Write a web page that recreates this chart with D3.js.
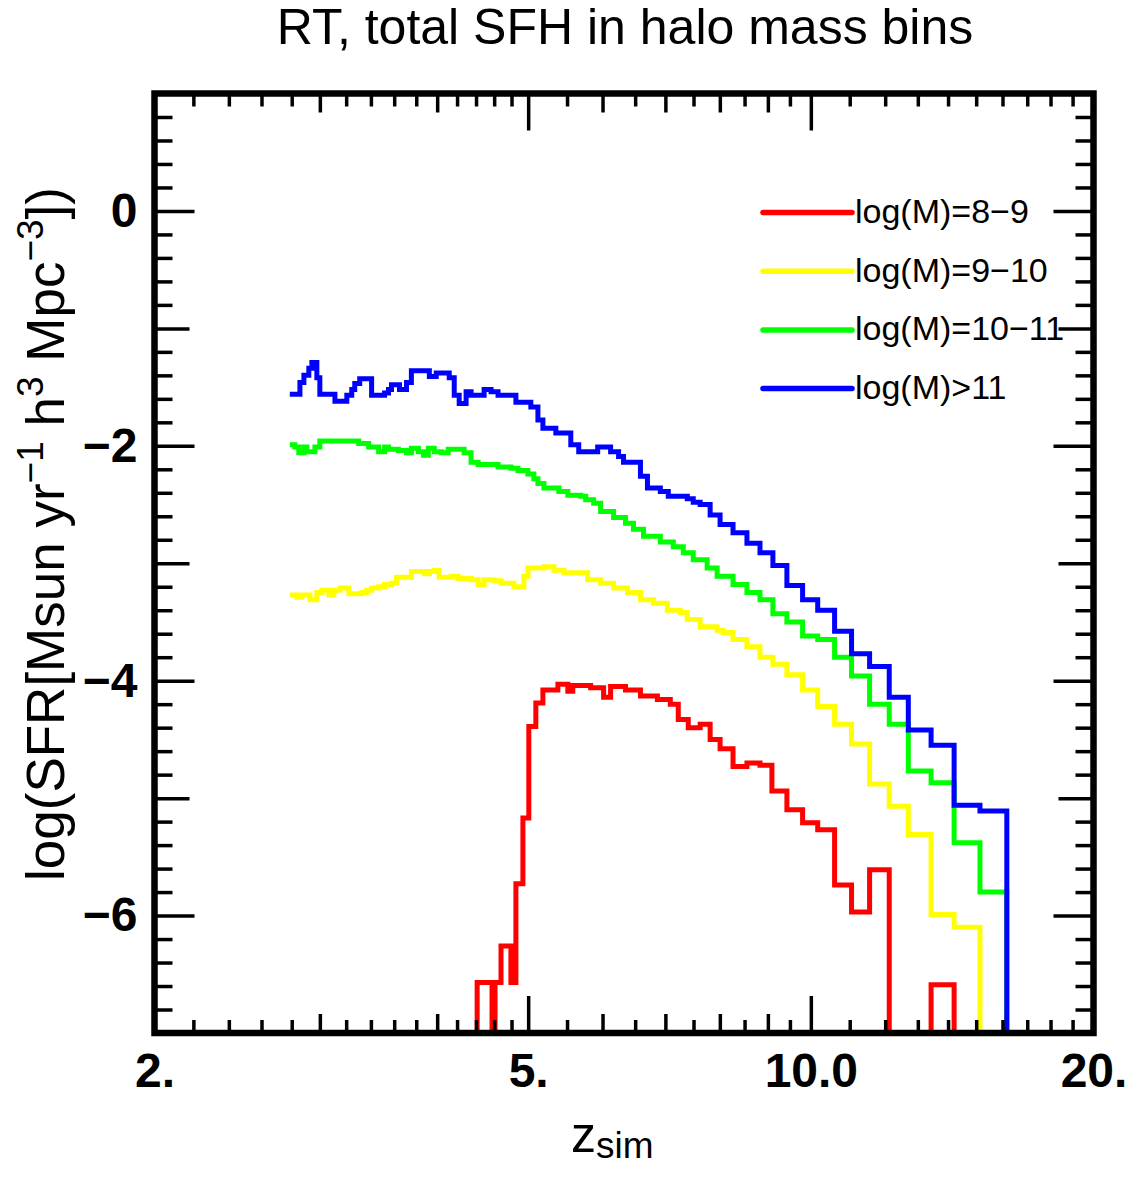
<!DOCTYPE html>
<html><head><meta charset="utf-8">
<script src="https://cdn.jsdelivr.net/npm/d3@7"></script>
<style>
body{margin:0;background:#fff}
svg{display:block}
text{font-family:"Liberation Sans",Arial,Helvetica,sans-serif;fill:#000}
</style>
</head><body>
<script>
// ---------- data: step histograms, [z at bin start, log SFR] ----------
const redSteps = [[2.787,null],[4.412,-6.57],[4.576,null],[4.610,-6.57],[4.678,-6.26],[4.793,-6.57],[4.852,-5.73],[4.936,-5.17],[5.008,-4.39],[5.095,-4.19],[5.184,-4.08],[5.378,-4.03],[5.511,-4.09],[5.578,-4.04],[5.828,-4.06],[6.016,-4.14],[6.120,-4.05],[6.348,-4.08],[6.585,-4.13],[6.864,-4.16],[7.085,-4.20],[7.225,-4.33],[7.404,-4.40],[7.623,-4.37],[7.812,-4.50],[8.005,-4.58],[8.263,-4.73],[8.550,-4.70],[8.828,-4.72],[9.09,-4.94],[9.43,-5.10],[9.80,-5.21],[10.17,-5.27],[10.60,-5.74],[11.05,-5.97],[11.55,-5.61],[12.12,null],[13.43,-6.59]];
const redEnd = 14.21;

const yellowSteps = [[2.787,-3.27],[2.835,-3.29],[2.871,-3.27],[2.928,-3.31],[2.978,-3.25],[3.015,-3.23],[3.068,-3.27],[3.105,-3.23],[3.151,-3.21],[3.221,-3.26],[3.324,-3.25],[3.365,-3.23],[3.406,-3.21],[3.465,-3.20],[3.516,-3.18],[3.576,-3.17],[3.620,-3.12],[3.755,-3.07],[3.876,-3.09],[3.924,-3.07],[3.972,-3.06],[4.020,-3.12],[4.140,-3.11],[4.212,-3.13],[4.347,-3.14],[4.423,-3.18],[4.488,-3.14],[4.599,-3.15],[4.678,-3.17],[4.828,-3.20],[4.948,-3.11],[4.998,-3.04],[5.197,-3.03],[5.325,-3.06],[5.457,-3.08],[5.785,-3.14],[5.972,-3.17],[6.165,-3.21],[6.380,-3.25],[6.585,-3.31],[6.798,-3.34],[7.033,-3.40],[7.260,-3.42],[7.385,-3.48],[7.623,-3.54],[7.947,-3.57],[8.063,-3.59],[8.263,-3.65],[8.550,-3.71],[8.828,-3.80],[9.112,-3.86],[9.43,-3.95],[9.80,-4.08],[10.17,-4.22],[10.60,-4.37],[11.05,-4.54],[11.55,-4.88],[12.12,-5.07],[12.70,-5.31],[13.43,-5.99],[14.21,-6.10]];
const yellowEnd = 15.14;

const greenSteps = [[2.787,-1.99],[2.821,-2.01],[2.849,-2.06],[2.885,-2.01],[2.906,-2.05],[2.964,-2.01],[3.000,-1.96],[3.300,-1.98],[3.381,-2.01],[3.465,-2.05],[3.516,-2.01],[3.550,-2.03],[3.638,-2.04],[3.710,-2.06],[3.755,-2.02],[3.820,-2.05],[3.867,-2.08],[3.914,-2.02],[3.972,-2.05],[4.040,-2.06],[4.110,-2.03],[4.273,-2.06],[4.347,-2.14],[4.423,-2.16],[4.644,-2.18],[4.793,-2.19],[4.876,-2.21],[4.996,-2.24],[5.070,-2.28],[5.121,-2.32],[5.197,-2.36],[5.391,-2.39],[5.511,-2.42],[5.688,-2.43],[5.758,-2.46],[5.871,-2.49],[5.972,-2.56],[6.165,-2.61],[6.348,-2.66],[6.473,-2.71],[6.634,-2.77],[6.914,-2.82],[7.137,-2.86],[7.314,-2.91],[7.495,-2.97],[7.755,-3.04],[7.947,-3.11],[8.263,-3.18],[8.550,-3.25],[8.828,-3.31],[9.112,-3.43],[9.43,-3.50],[9.80,-3.62],[10.17,-3.65],[10.60,-3.80],[11.05,-3.96],[11.55,-4.20],[12.12,-4.37],[12.70,-4.77],[13.43,-4.87],[14.21,-5.38],[15.14,-5.80]];
const greenEnd = 16.17;

const blueSteps = [[2.787,-1.56],[2.857,-1.46],[2.885,-1.40],[2.920,-1.34],[2.942,-1.29],[2.978,-1.42],[3.000,-1.56],[3.113,-1.62],[3.205,-1.57],[3.244,-1.52],[3.268,-1.47],[3.308,-1.43],[3.406,-1.57],[3.516,-1.55],[3.550,-1.52],[3.576,-1.48],[3.647,-1.52],[3.710,-1.46],[3.755,-1.36],[3.924,-1.41],[3.991,-1.38],[4.120,-1.42],[4.171,-1.57],[4.222,-1.64],[4.294,-1.54],[4.347,-1.57],[4.488,-1.52],[4.565,-1.54],[4.644,-1.57],[4.852,-1.63],[5.033,-1.67],[5.121,-1.78],[5.184,-1.85],[5.351,-1.89],[5.551,-1.99],[5.660,-2.05],[5.929,-2.01],[6.120,-2.05],[6.241,-2.09],[6.317,-2.14],[6.585,-2.26],[6.699,-2.36],[6.914,-2.39],[7.050,-2.43],[7.386,-2.45],[7.495,-2.48],[7.623,-2.50],[7.812,-2.59],[8.005,-2.67],[8.263,-2.74],[8.550,-2.83],[8.828,-2.91],[9.112,-3.02],[9.43,-3.19],[9.80,-3.31],[10.17,-3.40],[10.60,-3.58],[11.05,-3.77],[11.55,-3.88],[12.12,-4.14],[12.70,-4.42],[13.43,-4.55],[14.21,-5.06],[15.14,-5.11]];
const blueEnd = 16.17;

const seriesLabels = ["log(M)=8\u22129","log(M)=9\u221210","log(M)=10\u221211","log(M)>11"];
const seriesColors = ["#ff0000","#ffff00","#00ff00","#0000ff"];

// ---------- ticks ----------
const xMajorTicks = [2,5,10,20];
const xMajorLabels = ["2.","5.","10.0","20."];
const xMediumTicks = [3,4,6,7,8,9];
const xMinorTicks = [2.2,2.4,2.6,2.8,3.2,3.4,3.6,3.8,4.2,4.4,4.6,4.8,5.5,6.5,7.5,8.5,9.5,11,12,13,14,15,16,17,18,19];
const yMajorTicks = [0,-2,-4,-6];
const yMajorLabels = ["0","\u22122","\u22124","\u22126"];
const yMediumTicks = [1,-1,-3,-5,-7];
const yMinorTicks = [0.8,0.6,0.4,0.2,-0.2,-0.4,-0.6,-0.8,-1.2,-1.4,-1.6,-1.8,-2.2,-2.4,-2.6,-2.8,-3.2,-3.4,-3.6,-3.8,-4.2,-4.4,-4.6,-4.8,-5.2,-5.4,-5.6,-5.8,-6.2,-6.4,-6.6,-6.8];

// ---------- layout ----------
const W = 1139, H = 1203;
const L = 154.5, R = 1093.5, T = 93.5, B = 1033;

const svg = d3.select("body").append("svg").attr("width", W).attr("height", H);
const x = d3.scaleLog().domain([2,20]).range([L,R]);
const y = d3.scaleLinear().domain([-7,1]).range([B,T]);

svg.append("defs").append("clipPath").attr("id","plotclip")
  .append("rect").attr("x",L).attr("y",T).attr("width",R-L).attr("height",B-T);

// lines
const line = d3.line()
  .x(d => x(d[0]))
  .y(d => d[1] === null ? B + 30 : y(d[1]))
  .curve(d3.curveStepAfter);

const allSeries = [
  {steps: redSteps, end: redEnd, color: seriesColors[0]},
  {steps: yellowSteps, end: yellowEnd, color: seriesColors[1]},
  {steps: greenSteps, end: greenEnd, color: seriesColors[2]},
  {steps: blueSteps, end: blueEnd, color: seriesColors[3]}
];
const gLines = svg.append("g").attr("clip-path","url(#plotclip)");
allSeries.forEach(s => {
  const pts = s.steps.concat([[s.end, null]]);
  gLines.append("path").attr("d", line(pts))
    .attr("fill","none").attr("stroke", s.color)
    .attr("stroke-width", 5).attr("stroke-linejoin","miter");
});

// axes
function styleAxis(g){
  g.select(".domain").remove();
  g.selectAll(".tick line").attr("stroke","#000").attr("stroke-width",3.5);
}
function addAxis(axis, tx, ty){
  const g = svg.append("g").attr("transform",`translate(${tx},${ty})`).call(axis);
  styleAxis(g);
  return g;
}
const none = () => "";
// bottom
addAxis(d3.axisBottom(x).tickValues(xMinorTicks).tickSize(-13).tickFormat(none), 0, B);
addAxis(d3.axisBottom(x).tickValues(xMediumTicks).tickSize(-19).tickFormat(none), 0, B);
const xLab = addAxis(d3.axisBottom(x).tickValues(xMajorTicks).tickSize(-37).tickPadding(20)
  .tickFormat((d,i) => xMajorLabels[i]), 0, B);
xLab.selectAll("text").attr("font-size",48).attr("font-weight","bold")
  .attr("font-family",'"Liberation Sans",Arial,Helvetica,sans-serif').attr("fill","#000");
// top
addAxis(d3.axisTop(x).tickValues(xMinorTicks).tickSize(-13).tickFormat(none), 0, T);
addAxis(d3.axisTop(x).tickValues(xMediumTicks).tickSize(-19).tickFormat(none), 0, T);
addAxis(d3.axisTop(x).tickValues(xMajorTicks).tickSize(-37).tickFormat(none), 0, T);
// left
addAxis(d3.axisLeft(y).tickValues(yMinorTicks).tickSize(-18).tickFormat(none), L, 0);
addAxis(d3.axisLeft(y).tickValues(yMediumTicks).tickSize(-35).tickFormat(none), L, 0);
const yLab = addAxis(d3.axisLeft(y).tickValues(yMajorTicks).tickSize(-40).tickPadding(17)
  .tickFormat((d,i) => yMajorLabels[i]), L, 0);
yLab.selectAll("text").attr("font-size",48).attr("font-weight","bold")
  .attr("font-family",'"Liberation Sans",Arial,Helvetica,sans-serif').attr("fill","#000");
// right
addAxis(d3.axisRight(y).tickValues(yMinorTicks).tickSize(-18).tickFormat(none), R, 0);
addAxis(d3.axisRight(y).tickValues(yMediumTicks).tickSize(-35).tickFormat(none), R, 0);
addAxis(d3.axisRight(y).tickValues(yMajorTicks).tickSize(-40).tickFormat(none), R, 0);

// frame
svg.append("rect").attr("x",L).attr("y",T).attr("width",R-L).attr("height",B-T)
  .attr("fill","none").attr("stroke","#000").attr("stroke-width",6.5);

// legend
const leg = svg.append("g");
seriesLabels.forEach((lab,i) => {
  const yy = 212.5 + i*58.7;
  leg.append("line").attr("x1",763).attr("x2",852).attr("y1",yy).attr("y2",yy)
    .attr("stroke",seriesColors[i]).attr("stroke-width",5.5).attr("stroke-linecap","round");
  leg.append("text").attr("x",855).attr("y",yy+10.5).attr("font-size",34).text(lab);
});

// title
svg.append("text").attr("x",625).attr("y",44).attr("text-anchor","middle")
  .attr("font-size",50).text("RT, total SFH in halo mass bins");

// x title
const xt = svg.append("text").attr("x",571).attr("y",1152);
xt.append("tspan").attr("font-size",50).text("z");
xt.append("tspan").attr("font-size",37).attr("dy",6).text("sim");

// y title
const yt = svg.append("text").attr("transform","translate(64,534) rotate(-90)")
  .attr("text-anchor","middle").attr("font-size",53);
yt.append("tspan").text("log(SFR[Msun yr");
yt.append("tspan").attr("font-size",37).attr("dy",-21).text("\u22121");
yt.append("tspan").attr("dy",21).text(" h");
yt.append("tspan").attr("font-size",37).attr("dy",-21).text("3");
yt.append("tspan").attr("dy",21).text(" Mpc");
yt.append("tspan").attr("font-size",37).attr("dy",-21).text("\u22123");
yt.append("tspan").attr("dy",21).text("])");
</script>
</body></html>
